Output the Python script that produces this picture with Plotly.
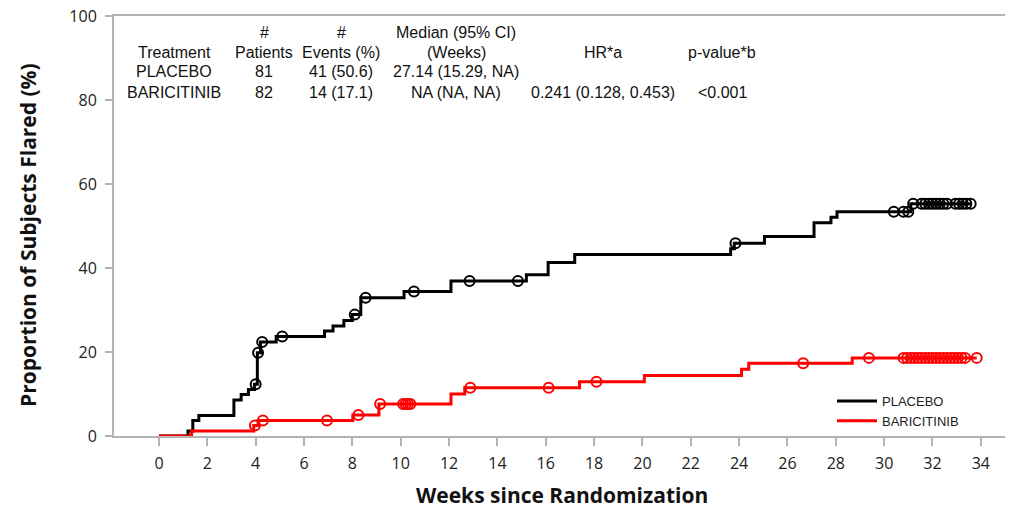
import numpy as np
import plotly.graph_objects as go

# ---------------- data ----------------
placebo_times = [0, 1.2, 1.4, 1.65, 3.1, 3.4, 3.7, 3.95, 4.07, 4.2, 4.85, 6.85, 7.2, 7.65,
                 8.0, 8.35, 10.14, 12.08, 15.2, 16.1, 17.2, 23.65, 23.8, 25.05, 27.1, 27.8,
                 28.05, 31.1]
placebo_levels = [0, 1.2, 3.7, 4.9, 8.6, 9.9, 11.1, 12.3, 19.8, 22.4, 23.7, 25.0, 26.2, 27.5,
                  28.9, 32.9, 34.4, 36.9, 38.4, 41.3, 43.2, 44.6, 45.9, 47.5, 50.8, 52.1,
                  53.4, 55.3]
placebo_censor = [4.0, 4.1, 4.27, 5.1, 8.1, 8.55, 10.55, 12.85, 14.85, 23.85, 30.4, 30.8,
                  31.0, 31.2, 31.55, 31.7, 31.85, 32.0, 32.15, 32.3, 32.45, 32.6, 32.95,
                  33.1, 33.25, 33.4, 33.58]

baricitinib_times = [0, 1.35, 3.92, 4.1, 8.02, 9.1, 12.08, 12.65, 17.4, 20.08, 24.1, 24.4, 28.68]
baricitinib_levels = [0, 1.2, 2.5, 3.7, 5.0, 7.6, 10.0, 11.5, 12.9, 14.4, 15.9, 17.3, 18.6]
baricitinib_censor = [3.97, 4.3, 6.95, 8.25, 9.15, 10.1, 10.2, 10.3, 10.4, 12.88, 16.12, 18.1,
                      26.65, 29.37, 30.8, 30.95, 31.1, 31.25, 31.4, 31.55, 31.7, 31.85, 32.0,
                      32.15, 32.3, 32.45, 32.6, 32.75, 32.9, 33.05, 33.2, 33.35, 33.83]

x_ticks = list(range(0, 36, 2))
y_ticks = [0, 20, 40, 60, 80, 100]

table_header1 = ["", "#", "#", "Median (95% CI)", "", ""]
table_header2 = ["Treatment", "Patients", "Events (%)", "(Weeks)", "HR*a", "p-value*b"]
table_placebo = ["PLACEBO", "81", "41 (50.6)", "27.14 (15.29, NA)", "", ""]
table_baricitinib = ["BARICITINIB", "82", "14 (17.1)", "NA (NA, NA)", "0.241 (0.128, 0.453)", "<0.001"]

x_title = "Weeks since Randomization"
y_title = "Proportion of Subjects Flared (%)"

# ---------------- layout constants ----------------
W, H = 1015, 508
REF_L, REF_T, PW, PH = 114, 16, 891, 420   # plot area in screenshot pixels
ML, MT = REF_L, REF_T
MR, MB = W - ML - PW, H - MT - PH
col_px = [174, 264, 341, 456, 603, 722]
row_px = [33, 52, 72, 92]

def px_x(px):
    return (px - REF_L) / PW

def px_y(py):
    return (REF_T + PH - py) / PH

def level_at(t, times, levels):
    idx = np.searchsorted(np.array(times), np.array(t), side="right") - 1
    return np.array(levels)[idx]

def step_xy(times, levels, censor):
    xs = list(times) + [max(censor)]
    ys = list(levels) + [levels[-1]]
    return xs, ys

fig = go.Figure()
series = [
    ("PLACEBO", placebo_times, placebo_levels, placebo_censor, "black"),
    ("BARICITINIB", baricitinib_times, baricitinib_levels, baricitinib_censor, "#ff0000"),
]
for name, t, lv, cen, col in series:
    xs, ys = step_xy(t, lv, cen)
    fig.add_trace(go.Scatter(x=xs, y=ys, mode="lines", line=dict(color=col, width=3, shape="hv"),
                             name=name, showlegend=True))
for name, t, lv, cen, col in series:
    fig.add_trace(go.Scatter(x=cen, y=level_at(cen, t, lv), mode="markers",
                             marker=dict(symbol="circle-open", size=10, color=col,
                                         line=dict(width=2, color=col)),
                             showlegend=False, hoverinfo="skip"))

# table annotations
tfont = dict(family="Liberation Sans, Arial, sans-serif", size=16, color="#111")
for row, py in zip([table_header1, table_header2, table_placebo, table_baricitinib], row_px):
    for txt, px in zip(row, col_px):
        if txt:
            fig.add_annotation(x=px_x(px), y=px_y(py), xref="paper", yref="paper",
                               text=txt, showarrow=False, xanchor="center", yanchor="middle",
                               font=tfont)

# axis titles
fig.add_annotation(x=px_x(562), y=px_y(495), xref="paper", yref="paper", showarrow=False,
                   text=f"<b>{x_title}</b>", xanchor="center", yanchor="middle",
                   font=dict(family="Open Sans, sans-serif", size=21, color="#111"))
fig.add_annotation(x=px_x(28), y=px_y(235), xref="paper", yref="paper", showarrow=False,
                   text=f"<b>{y_title}</b>", textangle=-90, xanchor="center", yanchor="middle",
                   font=dict(family="Open Sans, sans-serif", size=21, color="#111"))

axis_col = "#b4b4b4"
fig.update_layout(
    width=W, height=H,
    margin=dict(l=ML, r=MR, t=MT, b=MB, autoexpand=False),
    paper_bgcolor="white", plot_bgcolor="white",
    font=dict(family="Open Sans, sans-serif", color="#222"),
    xaxis=dict(range=[-1.86, 35.0], tickvals=x_ticks, showgrid=False, zeroline=False,
               showline=True, linecolor=axis_col, linewidth=2, mirror=True,
               ticks="outside", ticklen=8, tickcolor=axis_col, tickwidth=2,
               ticklabelstandoff=4, ticklabeloverflow="allow",
               tickfont=dict(size=16, color="#222")),
    yaxis=dict(range=[0, 100], tickvals=y_ticks, showgrid=False, zeroline=False,
               showline=True, linecolor=axis_col, linewidth=2,
               ticks="outside", ticklen=7, tickcolor=axis_col, tickwidth=2,
               ticklabelstandoff=5, ticklabeloverflow="allow",
               tickfont=dict(size=16, color="#222")),
    legend=dict(x=px_x(832), y=px_y(386), xanchor="left", yanchor="top",
                bgcolor="rgba(0,0,0,0)",
                font=dict(family="Liberation Sans, Arial, sans-serif", size=13, color="#222"),
                tracegroupgap=0, itemwidth=40),
    showlegend=True,
)

fig.write_html("out.html", config={"displayModeBar": False},
               post_script="document.body.style.margin='0';document.body.style.overflow='hidden';")
